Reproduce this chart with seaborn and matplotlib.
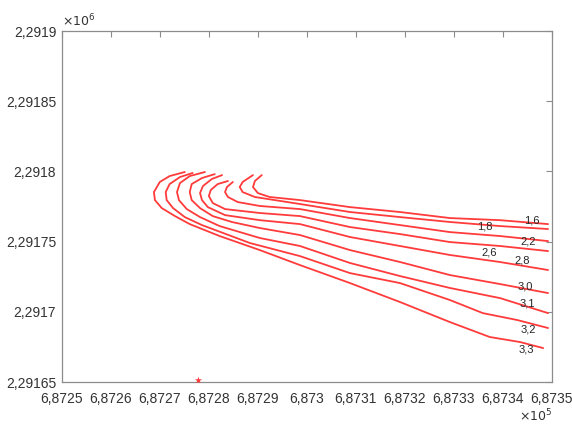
import seaborn as sns
import pandas as pd
import matplotlib
matplotlib.use("Agg")
import matplotlib.pyplot as plt
from matplotlib.ticker import FuncFormatter, MultipleLocator

# origin of the map window (easting, northing); curve points are metres from it
E0 = 687250
N0 = 2291650

levels = ['1,6', '1,8', '2,2', '2,6', '2,8', '3,0', '3,1', '3,2', '3,3']

x_16 = [40.8, 39.4, 39.0, 40.0, 42.4, 48.6, 58.8, 69.0, 79.2, 89.4, 99.2]
y_16 = [147.4, 143.2, 138.9, 134.6, 131.8, 129.6, 124.6, 121.1, 116.8, 115.3, 112.5]

x_18 = [39.0, 36.9, 36.3, 36.9, 39.4, 48.6, 58.8, 69.0, 79.2, 89.4, 99.2]
y_18 = [147.4, 142.5, 138.9, 135.3, 131.8, 126.8, 121.1, 117.5, 114.0, 111.1, 109.0]

x_22 = [34.9, 33.7, 33.3, 33.9, 35.9, 40.4, 48.6, 58.8, 69.0, 79.2, 89.4, 99.2]
y_22 = [142.5, 138.9, 135.3, 131.8, 128.2, 125.4, 123.2, 116.8, 111.8, 106.8, 104.0, 100.4]

x_26 = [33.9, 31.8, 30.4, 30.0, 30.8, 33.3, 40.4, 48.6, 58.8, 69.0, 79.2, 89.4, 99.2]
y_26 = [143.2, 141.0, 136.8, 132.5, 127.5, 123.2, 120.4, 118.2, 110.4, 105.4, 99.7, 96.9, 93.3]

x_28 = [32.7, 30.6, 28.8, 28.2, 28.6, 29.8, 33.3, 40.4, 48.6, 58.8, 69.0, 79.2, 89.4, 99.2]
y_28 = [147.4, 144.6, 139.6, 134.6, 129.6, 124.6, 118.9, 115.3, 112.5, 103.3, 96.9, 90.5, 85.5, 79.8]

x_30 = [31.2, 28.6, 26.5, 26.1, 26.5, 28.2, 30.8, 34.7, 40.4, 48.6, 58.8, 69.0, 79.2, 89.4, 99.2]
y_30 = [148.1, 145.3, 141.0, 135.3, 129.6, 123.9, 118.2, 114.0, 109.7, 104.7, 94.0, 85.5, 76.2, 69.8, 63.4]

x_31 = [29.2, 26.1, 24.1, 23.5, 23.9, 25.5, 28.2, 32.2, 40.4, 48.6, 58.8, 69.0, 79.2, 89.4, 99.2]
y_31 = [149.6, 146.7, 141.7, 135.3, 129.6, 123.2, 117.5, 111.1, 102.6, 96.9, 84.8, 75.5, 67.0, 59.8, 49.1]

x_32 = [26.7, 24.1, 22.0, 21.2, 21.4, 22.7, 25.1, 28.6, 38.4, 48.6, 58.8, 69.0, 79.2, 85.9, 92.9, 99.2]
y_32 = [148.9, 146.0, 141.0, 135.3, 129.6, 123.9, 117.5, 111.8, 99.0, 89.7, 77.6, 70.5, 58.4, 49.1, 44.2, 38.5]

x_33 = [25.1, 22.0, 20.0, 18.8, 19.0, 20.4, 23.1, 26.1, 32.2, 40.4, 48.6, 58.8, 69.0, 79.2, 87.3, 93.5, 98.2]
y_33 = [149.6, 146.7, 142.5, 135.3, 129.6, 123.9, 118.2, 112.5, 104.0, 94.0, 83.3, 70.5, 57.0, 42.7, 32.1, 28.5, 24.2]

curves_x = [x_16, x_18, x_22, x_26, x_28, x_30, x_31, x_32, x_33]
curves_y = [y_16, y_18, y_22, y_26, y_28, y_30, y_31, y_32, y_33]

# where each level label sits (metres from origin)
label_x = [95.9, 86.3, 95.1, 87.1, 93.9, 94.5, 94.9, 95.1, 94.7]
label_y = [115.4, 111.1, 100.4, 92.6, 86.9, 68.4, 56.3, 37.7, 23.5]

# the red point on the bottom edge
point_x = [27.8]
point_y = [1.4]

rows = []
for lev, xs, ys in zip(levels, curves_x, curves_y):
    for i, (a, b) in enumerate(zip(xs, ys)):
        rows.append({'level': lev, 'order': i, 'E': E0 + a, 'N': N0 + b})
df = pd.DataFrame(rows)

sns.set_style('white')
plt.rcParams['font.family'] = ['Liberation Sans', 'DejaVu Sans']

fig = plt.figure(figsize=(5.72, 4.25), dpi=100)
ax = fig.add_axes([0.108, 0.101, 0.857, 0.826])

sns.lineplot(data=df, x='E', y='N', units='level', estimator=None, sort=False,
             color='#ff3b3b', linewidth=1.3, ax=ax)
sns.scatterplot(x=[E0 + v for v in point_x], y=[N0 + v for v in point_y],
                marker='*', color='#ff3b3b', s=30, linewidth=0, ax=ax, zorder=5)

for lev, a, b in zip(levels, label_x, label_y):
    ax.text(E0 + a, N0 + b, lev, fontsize=8, color='#262626',
            ha='center', va='center')

ax.set_xlim(E0, E0 + 100)
ax.set_ylim(N0, N0 + 250)
ax.xaxis.set_major_locator(MultipleLocator(10))
ax.yaxis.set_major_locator(MultipleLocator(50))


def fmt(scale):
    def f(v, pos):
        s = f"{v / scale:.5f}".rstrip('0').rstrip('.')
        return s.replace('.', ',')
    return FuncFormatter(f)


ax.xaxis.set_major_formatter(fmt(1e5))
ax.yaxis.set_major_formatter(fmt(1e6))
ax.set_xlabel('')
ax.set_ylabel('')

for sp in ax.spines.values():
    sp.set_visible(True)
    sp.set_color('#8c8c8c')
    sp.set_linewidth(0.9)
ax.tick_params(direction='in', length=4, width=0.8, color='#8c8c8c',
               top=True, right=True, labelsize=10, labelcolor='#333333')
ax.tick_params(axis='x', pad=7)
ax.tick_params(axis='y', pad=4)

ax.text(0.0, 1.005, r'$\times10^{6}$', transform=ax.transAxes, fontsize=9,
        color='#333333', ha='left', va='bottom')
ax.text(1.0, -0.072, r'$\times10^{5}$', transform=ax.transAxes, fontsize=9,
        color='#333333', ha='right', va='top')

fig.savefig('out.png', dpi=100)
